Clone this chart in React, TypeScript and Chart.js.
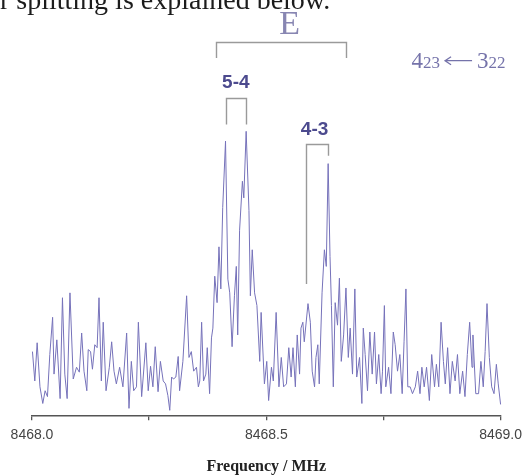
import React, { useEffect, useRef } from 'react';
import { Chart, registerables } from 'chart.js';

Chart.register(...registerables);

// ---- spectrum data (frequency in MHz, intensity in arbitrary units) ----
const freqMHz = [
  8468.001, 8468.006, 8468.011, 8468.017, 8468.023, 8468.028, 8468.033, 8468.038, 8468.044, 8468.047,
  8468.053, 8468.060, 8468.065, 8468.070, 8468.075, 8468.081, 8468.088, 8468.095, 8468.101, 8468.106,
  8468.111, 8468.117, 8468.120, 8468.125, 8468.129, 8468.134, 8468.139, 8468.143, 8468.148, 8468.152,
  8468.158, 8468.165, 8468.170, 8468.175, 8468.180, 8468.187, 8468.194, 8468.202, 8468.207, 8468.212,
  8468.217, 8468.223, 8468.227, 8468.234, 8468.237, 8468.243, 8468.248, 8468.253, 8468.258, 8468.263,
  8468.269, 8468.274, 8468.280, 8468.285, 8468.290, 8468.294, 8468.298, 8468.302, 8468.307, 8468.312,
  8468.315, 8468.322, 8468.330, 8468.335, 8468.340, 8468.345, 8468.351, 8468.355, 8468.358, 8468.362,
  8468.366, 8468.371, 8468.374, 8468.379, 8468.383, 8468.386, 8468.390, 8468.395, 8468.399, 8468.403,
  8468.407, 8468.413, 8468.418, 8468.422, 8468.427, 8468.432, 8468.436, 8468.439, 8468.443, 8468.449,
  8468.452, 8468.457, 8468.463, 8468.466, 8468.470, 8468.475, 8468.480, 8468.486, 8468.489, 8468.496,
  8468.501, 8468.505, 8468.511, 8468.515, 8468.521, 8468.527, 8468.532, 8468.537, 8468.543, 8468.548,
  8468.553, 8468.557, 8468.562, 8468.566, 8468.571, 8468.574, 8468.578, 8468.581, 8468.589, 8468.594,
  8468.598, 8468.603, 8468.606, 8468.610, 8468.613, 8468.619, 8468.624, 8468.628, 8468.632, 8468.636,
  8468.639, 8468.643, 8468.647, 8468.652, 8468.656, 8468.660, 8468.665, 8468.670, 8468.675, 8468.679,
  8468.684, 8468.689, 8468.693, 8468.699, 8468.704, 8468.707, 8468.711, 8468.716, 8468.721, 8468.726,
  8468.731, 8468.735, 8468.740, 8468.745, 8468.748, 8468.752, 8468.755, 8468.761, 8468.766, 8468.771,
  8468.775, 8468.780, 8468.785, 8468.790, 8468.794, 8468.798, 8468.802, 8468.807, 8468.812, 8468.818,
  8468.823, 8468.828, 8468.832, 8468.837, 8468.842, 8468.848, 8468.853, 8468.859, 8468.863, 8468.868,
  8468.873, 8468.878, 8468.882, 8468.887, 8468.892, 8468.897, 8468.903, 8468.908, 8468.913, 8468.919,
  8468.924, 8468.929, 8468.934, 8468.939, 8468.941, 8468.947, 8468.953, 8468.958, 8468.963, 8468.967,
  8468.971, 8468.976, 8468.981, 8468.986, 8468.991, 8468.995, 8469.000, 8469.004,
];

const intensity = [
  66, 36, 75, 30, 13, 26, 20, 63, 101, 43,
  78, 18, 121, 43, 18, 126, 38, 50, 45, 85,
  46, 26, 68, 66, 48, 73, 70, 121, 36, 96,
  26, 50, 76, 46, 33, 50, 30, 85, 8, 56,
  26, 30, 96, 20, 38, 75, 26, 51, 30, 71,
  25, 56, 36, 33, 21, 6, 40, 38, 40, 61,
  26, 56, 123, 60, 66, 46, 50, 30, 36, 96,
  36, 43, 70, 23, 80, 90, 143, 116, 173, 130,
  213, 281, 140, 126, 71, 123, 153, 83, 190, 240,
  223, 291, 210, 123, 170, 126, 113, 56, 106, 33,
  56, 16, 50, 36, 106, 30, 60, 30, 33, 70,
  40, 70, 30, 83, 43, 90, 96, 76, 115, 96,
  46, 30, 60, 73, 33, 126, 170, 153, 258, 163,
  113, 30, 116, 93, 141, 56, 83, 131, 60, 90,
  43, 130, 40, 60, 13, 90, 63, 26, 86, 43,
  86, 33, 63, 23, 46, 113, 30, 50, 23, 86,
  73, 46, 63, 23, 76, 130, 30, 30, 23, 30,
  46, 23, 50, 30, 50, 16, 63, 30, 53, 30,
  96, 56, 33, 70, 23, 56, 36, 63, 23, 46,
  20, 63, 96, 50, 83, 23, 23, 56, 30, 66,
  115, 60, 30, 23, 53, 33, 12, 60,
];

// ---- axis ----
const xTickValues = [8468.0, 8468.25, 8468.5, 8468.75, 8469.0];
const xTickLabels = ['8468.0', '', '8468.5', '', '8469.0'];
const xTitle = 'Frequency / MHz';
const headerText = 'r splitting is explained below.';

// ---- annotation brackets: [leftFreq, rightFreq, topLevel, leftFootLevel, rightFootLevel] ----
const bracketE = [8468.392, 8468.671, 382, 366, 366];
const bracket54 = [8468.413, 8468.457, 325, 298, 298];
const bracket43 = [8468.585, 8468.632, 278, 135, 266];

// ---- annotation labels: [text, freq, level] ----
const labelE = ['E', 8468.55, 390];
const label54 = ['5-4', 8468.435, 341];
const label43 = ['4-3', 8468.603, 293];
const transitionAt = [8468.81, 356];

const annotate = {
  id: 'annotate',
  afterDraw(chart: any) {
    const { ctx, scales } = chart;
    const x = scales.x;
    const y = scales.y;
    ctx.save();

    // header text (cut-off text line from surrounding document)
    ctx.fillStyle = '#1c1c1c';
    ctx.font = '28px "Liberation Serif"';
    ctx.textAlign = 'left';
    ctx.textBaseline = 'alphabetic';
    ctx.fillText(headerText, 0, 9);

    // brackets
    ctx.strokeStyle = '#9a9a9a';
    ctx.lineWidth = 1.4;
    for (const b of [bracketE, bracket54, bracket43]) {
      const xl = Math.round(x.getPixelForValue(b[0])) + 0.5;
      const xr = Math.round(x.getPixelForValue(b[1])) + 0.5;
      const yt = Math.round(y.getPixelForValue(b[2])) + 0.5;
      ctx.beginPath();
      ctx.moveTo(xl, y.getPixelForValue(b[3]));
      ctx.lineTo(xl, yt);
      ctx.lineTo(xr, yt);
      ctx.lineTo(xr, y.getPixelForValue(b[4]));
      ctx.stroke();
    }

    // E label
    ctx.textAlign = 'center';
    ctx.fillStyle = '#8886b2';
    ctx.font = '34px "Liberation Serif"';
    ctx.fillText(labelE[0] as string, x.getPixelForValue(labelE[1]), y.getPixelForValue(labelE[2]));

    // J labels
    ctx.fillStyle = '#4c4a8e';
    ctx.font = 'bold 19px "Liberation Sans"';
    ctx.textBaseline = 'middle';
    for (const l of [label54, label43]) {
      ctx.fillText(l[0] as string, x.getPixelForValue(l[1]), y.getPixelForValue(l[2]));
    }

    // transition label 4_23 <- 3_22
    ctx.textAlign = 'left';
    ctx.textBaseline = 'alphabetic';
    ctx.fillStyle = '#7573aa';
    ctx.strokeStyle = '#7573aa';
    let cx = x.getPixelForValue(transitionAt[0]);
    const by = y.getPixelForValue(transitionAt[1]);
    const big = '23px "Liberation Serif"';
    const small = '17px "Liberation Serif"';
    ctx.font = big; ctx.fillText('4', cx, by); cx += ctx.measureText('4').width;
    ctx.font = small; ctx.fillText('23', cx, by); cx += ctx.measureText('23').width + 4;
    const ym = by - 7;
    ctx.lineWidth = 1.3;
    ctx.beginPath();
    ctx.moveTo(cx + 1, ym); ctx.lineTo(cx + 28, ym);
    ctx.moveTo(cx + 7, ym - 4); ctx.lineTo(cx + 1, ym); ctx.lineTo(cx + 7, ym + 4);
    ctx.stroke();
    cx += 33;
    ctx.font = big; ctx.fillText('3', cx, by); cx += ctx.measureText('3').width;
    ctx.font = small; ctx.fillText('22', cx, by);

    ctx.restore();
  },
};

export default function App() {
  const ref = useRef<HTMLCanvasElement | null>(null);

  useEffect(() => {
    if (!ref.current) return;
    const points = freqMHz.map((f, i) => ({ x: f, y: intensity[i] }));
    const chart = new Chart(ref.current, {
      type: 'line',
      data: {
        datasets: [
          {
            data: points,
            borderColor: 'rgb(118,114,186)',
            borderWidth: 1,
            pointRadius: 0,
            tension: 0,
            fill: false,
            clip: false as any,
          },
        ],
      },
      options: {
        animation: false,
        responsive: false,
        devicePixelRatio: 1,
        layout: { padding: { left: 32, right: 28, top: 100, bottom: 0 } },
        plugins: { legend: { display: false }, tooltip: { enabled: false } },
        scales: {
          x: {
            type: 'linear',
            min: 8468,
            max: 8469,
            afterBuildTicks: (s: any) => {
              s.ticks = xTickValues.map((v) => ({ value: v }));
            },
            ticks: {
              autoSkip: false,
              maxRotation: 0,
              padding: 7,
              color: '#444',
              font: { family: '"Liberation Sans"', size: 14 },
              callback: (_v: any, i: number) => xTickLabels[i],
            },
            grid: {
              display: true,
              drawOnChartArea: false,
              drawTicks: true,
              tickLength: 4,
              color: '#555',
              lineWidth: 1.3,
            },
            border: { display: true, color: '#555', width: 1.5 },
            title: {
              display: true,
              text: xTitle,
              color: '#222',
              font: { family: '"Liberation Serif"', size: 16, weight: 'bold', lineHeight: 1 },
              padding: { top: 8, bottom: 0 },
            },
          },
          y: { display: false, min: 0, max: 323 },
        },
      },
      plugins: [annotate],
    });
    return () => chart.destroy();
  }, []);

  return (
    <div style={{ position: 'fixed', left: 0, top: 0, width: 529, height: 475, background: '#fff' }}>
      <canvas ref={ref} width={529} height={475} style={{ display: 'block' }} />
    </div>
  );
}
